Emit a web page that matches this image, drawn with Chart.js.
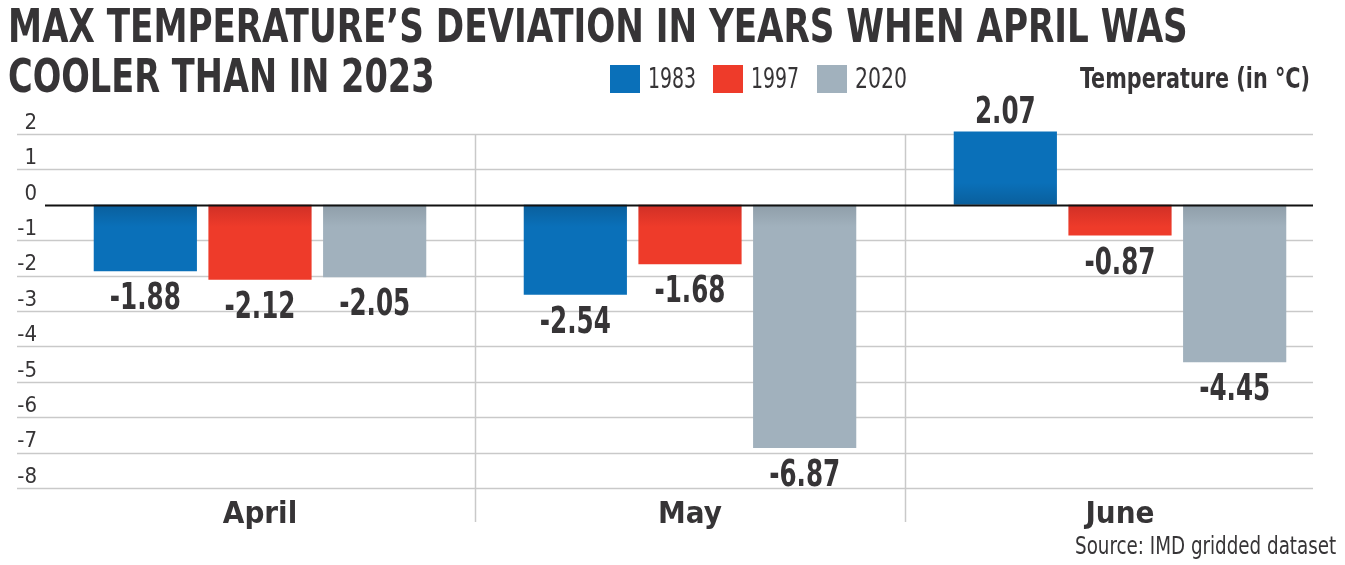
<!DOCTYPE html>
<html lang="en">
<head>
  <meta charset="UTF-8" />
  <title>Max temperature's deviation</title>
  <style>
    body { margin: 0; background: #fff; font-family: "Liberation Sans Narrow", "DejaVu Sans Condensed", sans-serif; color: #363436; }
    .wrap { position: relative; width: 1345px; height: 565px; overflow: hidden; }
    #chart { position: absolute; left: 0; top: 0; }
    .title { position: absolute; left: 8px; font-weight: bold; font-size: 47px; line-height: 1; white-space: nowrap; transform-origin: 0 0; }
    #t1 { top: 2px; }
    #t2 { top: 52px; }
    .box { position: absolute; top: 65px; width: 30px; height: 28px; }
    .lab { position: absolute; top: 62px; font-size: 28px; white-space: nowrap; transform-origin: 0 0; }
    .unit { position: absolute; top: 61px; right: 35px; font-size: 29px; font-weight: bold; white-space: nowrap; transform-origin: 100% 0; }
    .source { position: absolute; top: 532px; right: 9px; font-size: 24px; white-space: nowrap; transform-origin: 100% 0; }
  </style>
  <script src="https://cdn.jsdelivr.net/npm/chart.js"></script>
</head>
<body>
  <div class="wrap">
    <canvas id="chart" width="1345" height="565"></canvas>
    <div class="title" id="t1">MAX TEMPERATURE’S DEVIATION IN YEARS WHEN APRIL WAS</div>
    <div class="title" id="t2">COOLER THAN IN 2023</div>
    <div id="legend"></div>
    <div class="unit" id="unit">Temperature (in °C)</div>
    <div class="source" id="source">Source: IMD gridded dataset</div>
  </div>

  <script>
    // data
    const months = ['April', 'May', 'June'];
    const years = ['1983', '1997', '2020'];
    const v1983 = [-1.88, -2.54, 2.07];
    const v1997 = [-2.12, -1.68, -0.87];
    const v2020 = [-2.05, -6.87, -4.45];
    const yTicks = [2, 1, 0, -1, -2, -3, -4, -5, -6, -7, -8];

    const colors = ['#0a70b9', '#ee3b2a', '#a1b1bd'];
    const shades = ['#0a5f9c', '#d02f26', '#8f9ea9'];
    const FONT = '"Liberation Sans Narrow", "DejaVu Sans Condensed", sans-serif';

    // squeeze text to the widths measured on the original
    function fitWidth(el, w) {
      el.style.transform = 'scaleX(' + (w / el.offsetWidth) + ')';
    }
    fitWidth(document.getElementById('t1'), 1180);
    fitWidth(document.getElementById('t2'), 427);
    fitWidth(document.getElementById('unit'), 230);
    fitWidth(document.getElementById('source'), 261);

    const legend = document.getElementById('legend');
    const legendX = [610, 713, 817];
    years.forEach((y, i) => {
      const box = document.createElement('span');
      box.className = 'box';
      box.style.left = legendX[i] + 'px';
      box.style.background = colors[i];
      const lab = document.createElement('span');
      lab.className = 'lab';
      lab.style.left = (legendX[i] + 38) + 'px';
      lab.textContent = y;
      legend.appendChild(box);
      legend.appendChild(lab);
      fitWidth(lab, y === '2020' ? 52 : 48);
    });

    function barFill(i) {
      return (c) => {
        const chart = c.chart;
        if (!chart.chartArea || c.raw === undefined) return colors[i];
        const y0 = chart.scales.y.getPixelForValue(0);
        const dir = c.raw < 0 ? 1 : -1;
        const g = chart.ctx.createLinearGradient(0, y0, 0, y0 + dir * 22);
        g.addColorStop(0, shades[i]);
        g.addColorStop(1, colors[i]);
        return g;
      };
    }

    const gridPlugin = {
      id: 'grid',
      beforeDatasetsDraw(chart) {
        const { ctx, scales: { x, y } } = chart;
        ctx.save();
        ctx.strokeStyle = '#c9c9c9';
        ctx.lineWidth = 1.5;
        yTicks.forEach(t => {
          if (t === 0) return;
          const py = Math.round(y.getPixelForValue(t)) + 0.5;
          ctx.beginPath(); ctx.moveTo(17, py); ctx.lineTo(1313, py); ctx.stroke();
        });
        const top = y.getPixelForValue(yTicks[0]);
        for (let i = 0; i < months.length - 1; i++) {
          const px = Math.round((x.getPixelForValue(i) + x.getPixelForValue(i + 1)) / 2) + 0.5;
          ctx.beginPath(); ctx.moveTo(px, top); ctx.lineTo(px, 522); ctx.stroke();
        }
        ctx.restore();
      },
      afterDatasetsDraw(chart) {
        const { ctx, scales: { y } } = chart;
        const py = Math.round(y.getPixelForValue(0)) + 0.5;
        ctx.save();
        ctx.strokeStyle = '#111';
        ctx.lineWidth = 2;
        ctx.beginPath(); ctx.moveTo(45, py); ctx.lineTo(1313, py); ctx.stroke();

        ctx.fillStyle = '#363436';
        ctx.font = 'bold 37px ' + FONT;
        ctx.textAlign = 'center';
        chart.data.datasets.forEach((ds, di) => {
          chart.getDatasetMeta(di).data.forEach((bar, i) => {
            const v = ds.data[i];
            const ty = v < 0 ? bar.y + 10 : bar.y;
            ctx.textBaseline = v < 0 ? 'top' : 'bottom';
            ctx.save();
            ctx.translate(bar.x, ty);
            ctx.scale(0.74, 1);
            ctx.fillText(v.toFixed(2), 0, 0);
            ctx.restore();
          });
        });
        ctx.restore();
      }
    };

    new Chart(document.getElementById('chart'), {
      type: 'bar',
      data: {
        labels: months,
        datasets: [
          { label: years[0], data: v1983, backgroundColor: barFill(0) },
          { label: years[1], data: v1997, backgroundColor: barFill(1) },
          { label: years[2], data: v2020, backgroundColor: barFill(2) }
        ]
      },
      options: {
        responsive: false,
        animation: false,
        events: [],
        layout: { padding: { top: 134, right: 10, left: 0, bottom: 0 } },
        datasets: { bar: { categoryPercentage: 0.8, barPercentage: 0.9, clip: false } },
        plugins: { legend: { display: false }, tooltip: { enabled: false } },
        scales: {
          x: {
            grid: { display: false },
            border: { display: false },
            ticks: { color: '#363436', padding: 0, font: { family: FONT, size: 31, weight: 'bold' } },
            afterFit: s => { s.height = 77; }
          },
          y: {
            min: -8, max: 2,
            grid: { display: false, drawTicks: false },
            border: { display: false },
            afterBuildTicks: s => { s.ticks = yTicks.map(v => ({ value: v })); },
            ticks: {
              color: '#363436', padding: 8, labelOffset: -11,
              font: { family: FONT, size: 22 },
              callback: v => String(v)
            },
            afterFit: s => { s.width = 45; }
          }
        }
      },
      plugins: [gridPlugin]
    });
  </script>
</body>
</html>
